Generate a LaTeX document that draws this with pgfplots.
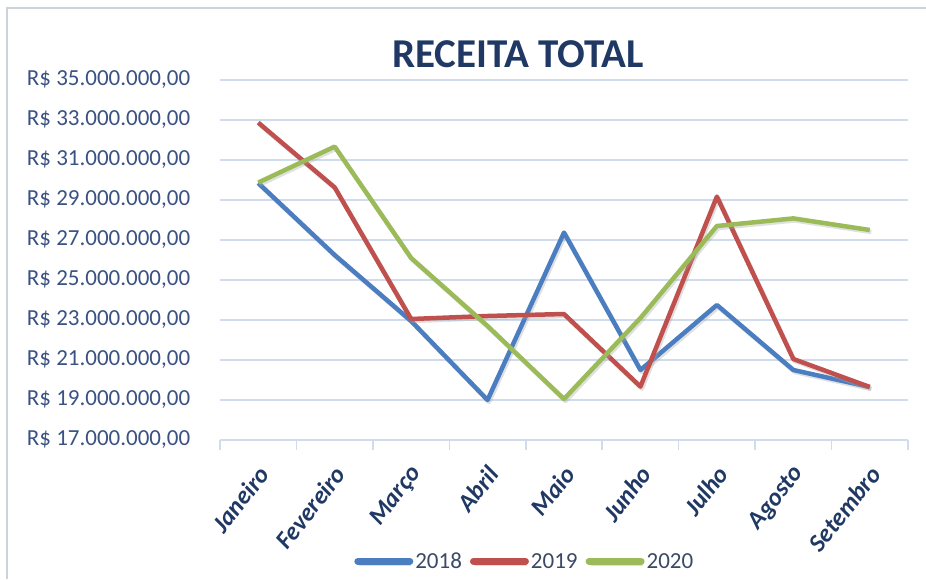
\documentclass[border=0pt]{standalone}
\usepackage{pgfplots}
\pgfplotsset{compat=1.18}
\usepackage{fontspec}
\setmainfont{Carlito}
\definecolor{sblue}{HTML}{4A7EC0}
\definecolor{sred}{HTML}{C0504D}
\definecolor{sgreen}{HTML}{9BBB59}
\definecolor{gridc}{HTML}{D0DCEE}
\definecolor{navy}{HTML}{1F3864}
\definecolor{ticktxt}{HTML}{3A5283}
\definecolor{legtxt}{HTML}{3A4A66}
\begin{document}
\begin{tikzpicture}
\path[use as bounding box] (0,0) rectangle (926pt,579pt);
\draw[color=gridc!70!gray!70, line width=1.2pt] (7pt,0pt) -- (7pt,571pt) -- (926pt,571pt);
\begin{axis}[
  scale only axis,
  width=688pt, height=360pt,
  at={(220pt,139pt)}, anchor=south west,
  xmin=-0.5, xmax=8.5,
  ymin=17, ymax=35,
  axis x line*=bottom, axis y line*=left,
  y axis line style={draw=none},
  x axis line style={draw=gridc, line width=1.5pt},
  ytick={17,19,...,35},
  yticklabels={R\$ 17.000.000{,}00,R\$ 19.000.000{,}00,R\$ 21.000.000{,}00,R\$ 23.000.000{,}00,R\$ 25.000.000{,}00,R\$ 27.000.000{,}00,R\$ 29.000.000{,}00,R\$ 31.000.000{,}00,R\$ 33.000.000{,}00,R\$ 35.000.000{,}00},
  yticklabel style={font=\fontsize{23}{26}\selectfont, text=ticktxt, anchor=east, xshift=-22pt},
  y tick style={draw=none},
  ymajorgrids,
  grid style={draw=gridc, line width=1.5pt},
  xtick={0,...,8},
  xticklabels={Janeiro,Fevereiro,Março,Abril,Maio,Junho,Julho,Agosto,Setembro},
  xticklabel style={font=\fontsize{25}{28}\selectfont\bfseries\itshape, text=navy, rotate=52, anchor=east, xshift=-13pt, yshift=-20pt},
  major x tick style={draw=none},
  minor xtick={-0.5,0.5,...,8.5},
  minor x tick style={draw=gridc, line width=1.5pt},
  minor tick length=10pt,
  tick align=outside,
  clip=false,
  legend style={at={(0.443,-0.337)}, anchor=center, draw=none, fill=none,
    legend columns=3, font=\fontsize{23}{26}\selectfont, text=legtxt,
    /tikz/every even column/.append style={column sep=6pt}},
  legend image code/.code={\draw[#1, line width=7pt, line cap=round] (0pt,0pt) -- (52pt,0pt);},
  legend cell align=left,
  every axis plot/.append style={line width=4.5pt, line join=round,
    preaction={draw=black!35, opacity=0.35, line width=4.5pt, transform canvas={xshift=1.5pt,yshift=-2pt}}},
]
\addplot[sblue] coordinates {
 (0,29.85) (1,26.25) (2,22.95) (3,19.0) (4,27.37) (5,20.5) (6,23.75) (7,20.5) (8,19.65)};
\addlegendentry{2018}
\addplot[sred] coordinates {
 (0,32.87) (1,29.63) (2,23.05) (3,23.2) (4,23.3) (5,19.67) (6,29.17) (7,21.05) (8,19.65)};
\addlegendentry{2019}
\addplot[sgreen] coordinates {
 (0,29.87) (1,31.67) (2,26.1) (3,22.7) (4,19.05) (5,23.1) (6,27.7) (7,28.08) (8,27.5)};
\addlegendentry{2020}
\node[font=\fontsize{41}{44}\selectfont\bfseries, text=navy] at (axis description cs:0.433,1.072) {RECEITA TOTAL};
\end{axis}
\end{tikzpicture}
\end{document}
